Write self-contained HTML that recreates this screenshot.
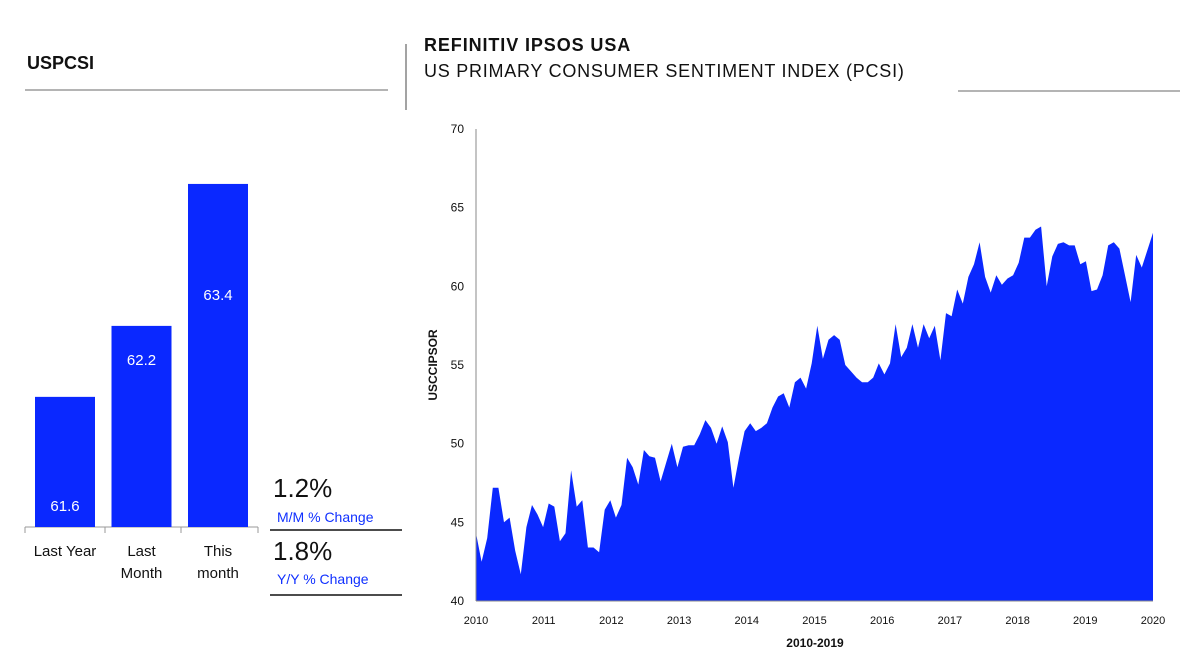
<!DOCTYPE html>
<html><head><meta charset="utf-8"><style>
body{margin:0;background:#fff;width:1200px;height:666px;overflow:hidden;font-family:"Liberation Sans",sans-serif}
svg{position:absolute;left:0;top:0}
</style></head><body>
<svg width="1200" height="666" viewBox="0 0 1200 666">
<text x="27" y="69" font-size="18" font-weight="bold" fill="#111">USPCSI</text>
<line x1="25" y1="90" x2="388" y2="90" stroke="#888" stroke-width="1.2"/>
<line x1="406" y1="44" x2="406" y2="110" stroke="#666" stroke-width="1.2"/>
<text x="424" y="51" font-size="18" font-weight="bold" fill="#111" letter-spacing="0.9">REFINITIV IPSOS USA</text>
<text x="424" y="77" font-size="18" fill="#111" letter-spacing="0.75">US PRIMARY CONSUMER SENTIMENT INDEX (PCSI)</text>
<line x1="958" y1="91" x2="1180" y2="91" stroke="#888" stroke-width="1.2"/>
<g id="bars"></g>
<text x="273" y="497" font-size="26" fill="#111">1.2%</text>
<text x="277" y="522" font-size="14" fill="#1030ff">M/M % Change</text>
<line x1="270" y1="530" x2="402" y2="530" stroke="#111" stroke-width="1.5"/>
<text x="273" y="560" font-size="26" fill="#111">1.8%</text>
<text x="277" y="584" font-size="14" fill="#1030ff">Y/Y % Change</text>
<line x1="270" y1="595" x2="402" y2="595" stroke="#111" stroke-width="1.5"/>
<g id="area"></g>
<text transform="translate(437,365) rotate(-90)" text-anchor="middle" font-size="12" font-weight="bold" fill="#111">USCCIPSOR</text>
<text x="815" y="647" text-anchor="middle" font-size="12" font-weight="bold" fill="#111">2010-2019</text>
</svg>
<script>
const barCats=[["Last Year"],["Last","Month"],["This","month"]];
const barVals=[61.6,62.2,63.4];
const pcsi=[44.3,42.5,44.0,47.2,47.2,45.0,45.3,43.2,41.7,44.7,46.1,45.5,44.7,46.2,46.0,43.8,44.3,48.3,46.0,46.4,43.4,43.4,43.1,45.8,46.4,45.3,46.1,49.1,48.5,47.4,49.6,49.2,49.1,47.6,48.8,50.0,48.5,49.8,49.9,49.9,50.6,51.5,51.0,50.0,51.1,50.1,47.2,49.1,50.8,51.3,50.8,51.0,51.3,52.3,53.0,53.2,52.3,53.9,54.2,53.5,55.1,57.5,55.4,
56.6,56.9,56.6,55.0,54.6,54.2,53.9,53.9,54.2,55.1,54.4,55.1,57.6,55.5,56.1,57.6,56.1,57.6,56.7,57.5,55.3,58.3,58.1,59.8,58.9,60.6,61.4,62.8,60.6,59.6,60.7,60.1,60.5,60.7,61.5,63.1,63.1,63.6,63.8,60.0,61.9,62.7,62.8,62.6,62.6,61.4,61.6,59.7,59.8,60.7,62.6,62.8,62.4,60.7,59.0,62.0,61.2,62.3,63.4];
const yTicks=[40,45,50,55,60,65,70];
const xTicks=[2010,2011,2012,2013,2014,2015,2016,2017,2018,2019,2020];
const NS="http://www.w3.org/2000/svg";
function mk(t,a,p){const e=document.createElementNS(NS,t);for(const k in a)e.setAttribute(k,a[k]);p.appendChild(e);return e;}
const bb=document.getElementById('bars');
const by=v=>527-(v-60.5)*118.3;
mk('line',{x1:25,y1:527,x2:258,y2:527,stroke:'#999'},bb);
barCats.forEach((c,i)=>{
  const x=35+i*76.5, y=by(barVals[i]);
  const r=mk('rect',{x:x,y:y,width:60,height:527-y,fill:'#0a28ff'},bb);
  
  
  const ly=i==0?511:(i==1?y+39:y+116);
  const t=mk('text',{x:x+30,y:ly,'text-anchor':'middle','font-size':15,fill:'#fff'},bb);t.textContent=barVals[i].toFixed(1);
  
  
  c.forEach((s,j)=>{const tt=mk('text',{x:x+30,y:556+j*22,'text-anchor':'middle','font-size':15,fill:'#111'},bb);tt.textContent=s;
    
    });
});
[25,105,181,258].forEach(x=>mk('line',{x1:x,y1:527,x2:x,y2:533,stroke:'#999'},bb));
const g=document.getElementById('area');
const X0=476,X1=1153,Y0=601,Y1=129;
const sx=m=>X0+m/(pcsi.length-1)*(X1-X0);
const sy=v=>Y0-(v-40)/30*(Y0-Y1);
let d='M'+X0+','+Y0;
pcsi.forEach((v,i)=>d+=' L'+sx(i).toFixed(1)+','+sy(v).toFixed(1));
d+=' L'+X1+','+Y0+' Z';
const p=mk('path',{d:d,fill:'#0a28ff'},g);


mk('line',{x1:X0,y1:Y1,x2:X0,y2:Y0,stroke:'#888'},g);
mk('line',{x1:X0,y1:Y0,x2:X1,y2:Y0,stroke:'#888'},g);
yTicks.forEach(v=>{const t=mk('text',{x:464,y:sy(v)+4,'text-anchor':'end','font-size':12,fill:'#111'},g);t.textContent=v;
  
  });
xTicks.forEach(v=>{const t=mk('text',{x:X0+(v-2010)/10*(X1-X0),y:624,'text-anchor':'middle','font-size':11,fill:'#111'},g);t.textContent=v;
  
  });
</script>
</body></html>
